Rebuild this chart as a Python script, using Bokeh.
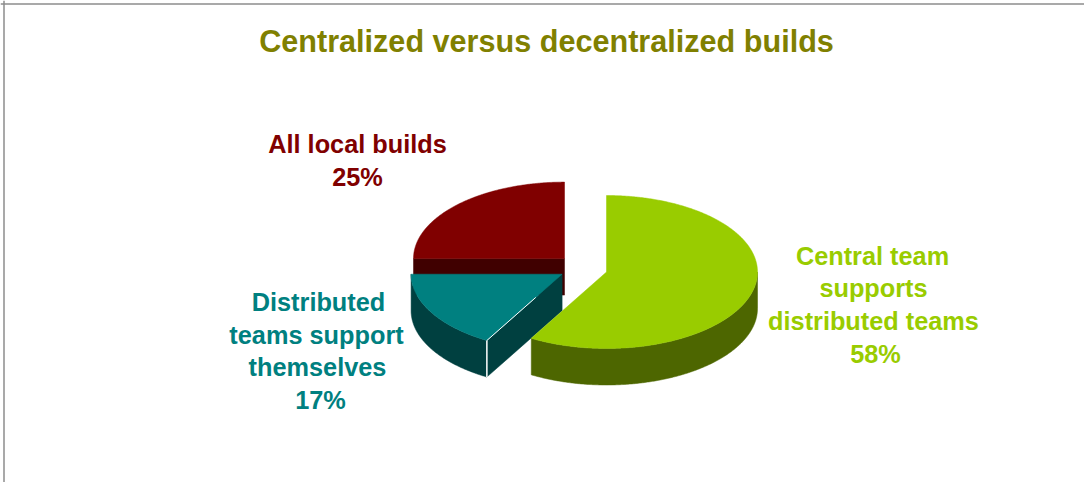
import numpy as np
from bokeh.embed import file_html
from bokeh.resources import INLINE
from bokeh.plotting import figure
from bokeh.models import Range1d, Span
from bokeh.core.properties import value

# ---- data ----
title_text = "Centralized versus decentralized builds"
categories = ["Central team supports distributed teams", "Distributed teams support themselves", "All local builds"]
shares = [58.3, 16.7, 25.0]
percent_labels = ["58%", "17%", "25%"]
label_lines = [
    ["Central team", "supports", "distributed teams", "58%"],
    ["Distributed", "teams support", "themselves", "17%"],
    ["All local builds", "25%"],
]
top_colors = ["#99CC00", "#008080", "#800000"]
side_colors = ["#4D6600", "#004040", "#400000"]

# ---- layout (pixels) ----
W, H = 1084, 482
centers = [(606.0, 271.5), (561.6, 273.7), (564.0, 258.1)]
RX, RY, DEPTH = 151.0, 76.5, 36.5
label_x = [[872, 873, 873, 875], [318, 316, 317, 320], [357, 357]]
label_y = [[255, 287, 320, 353], [301, 334, 366, 399], [143, 176]]
LABEL_SIZE = "25.3px"

p = figure(width=W, height=H, output_backend="svg", toolbar_location=None,
           x_range=Range1d(0, W), y_range=Range1d(H, 0),
           min_border=0, outline_line_color=None, background_fill_color="white")
p.xaxis.visible = False
p.yaxis.visible = False
p.xgrid.visible = False
p.ygrid.visible = False

p.add_layout(Span(location=3.5, dimension="height", line_color="#8C8C8C", line_width=1.5))
p.add_layout(Span(location=3.5, dimension="width", line_color="#8C8C8C", line_width=1.5))


def rim(c, a0, a1, dz=0.0):
    t = np.radians(np.linspace(a0, a1, max(2, int(abs(a1 - a0) * 2) + 1)))
    return c[0] + RX * np.sin(t), c[1] - RY * np.cos(t) + dz


edges = np.concatenate([[0.0], np.cumsum(shares)]) / sum(shares) * 360.0
slices = [(centers[i], edges[i], edges[i + 1], top_colors[i], side_colors[i]) for i in range(3)]


def wall(c, a0, a1, col):
    lo, hi = max(a0, 90.0), min(a1, 270.0)
    if hi <= lo:
        return
    x1, y1 = rim(c, lo, hi)
    x2, y2 = rim(c, lo, hi, DEPTH)
    p.patch(np.r_[x1, x2[::-1]], np.r_[y1, y2[::-1]], fill_color=col, line_color=col, line_width=0.5)


def cut(c, a, col):
    x, y = rim(c, a, a)
    rx, ry = x[0], y[0]
    p.patch([c[0], rx, rx, c[0]], [c[1], ry, ry + DEPTH, c[1] + DEPTH],
            fill_color=col, line_color=col, line_width=0.5)


def top(c, a0, a1, col):
    x, y = rim(c, a0, a1)
    p.patch(np.r_[c[0], x], np.r_[c[1], y], fill_color=col, line_color=col, line_width=0.5)


# back to front: red, teal, green
c, a0, a1, tc, sc = slices[2]
cut(c, a0, sc)
top(c, a0, a1, tc)

c, a0, a1, tc, sc = slices[1]
wall(c, a0, a1, sc)
cut(c, a0, sc)
top(c, a0, a1, tc)
ex, ey = rim(c, a0, a0)
p.line([ex[0], ex[0]], [ey[0], ey[0] + DEPTH], line_color="white", line_width=1.5)
p.line([ex[0], ex[0] + 0.65 * (c[0] - ex[0])], [ey[0], ey[0] + 0.65 * (c[1] - ey[0])],
       line_color="white", line_width=1)

c, a0, a1, tc, sc = slices[0]
wall(c, a0, a1, sc)
top(c, a0, a1, tc)

# ---- text ----
p.text([546], [40], text=[title_text], text_font=value("Liberation Sans"), text_font_style="bold",
       text_font_size="30.6px", text_color="#808000", text_align="center", text_baseline="middle")
for lines, xs, ys, col in zip(label_lines, label_x, label_y, top_colors):
    p.text(xs, ys, text=lines, text_font=value("Liberation Sans"), text_font_style="bold",
           text_font_size=LABEL_SIZE, text_color=col, text_align="center", text_baseline="middle")

open("out.html", "w").write(file_html(p, INLINE))
